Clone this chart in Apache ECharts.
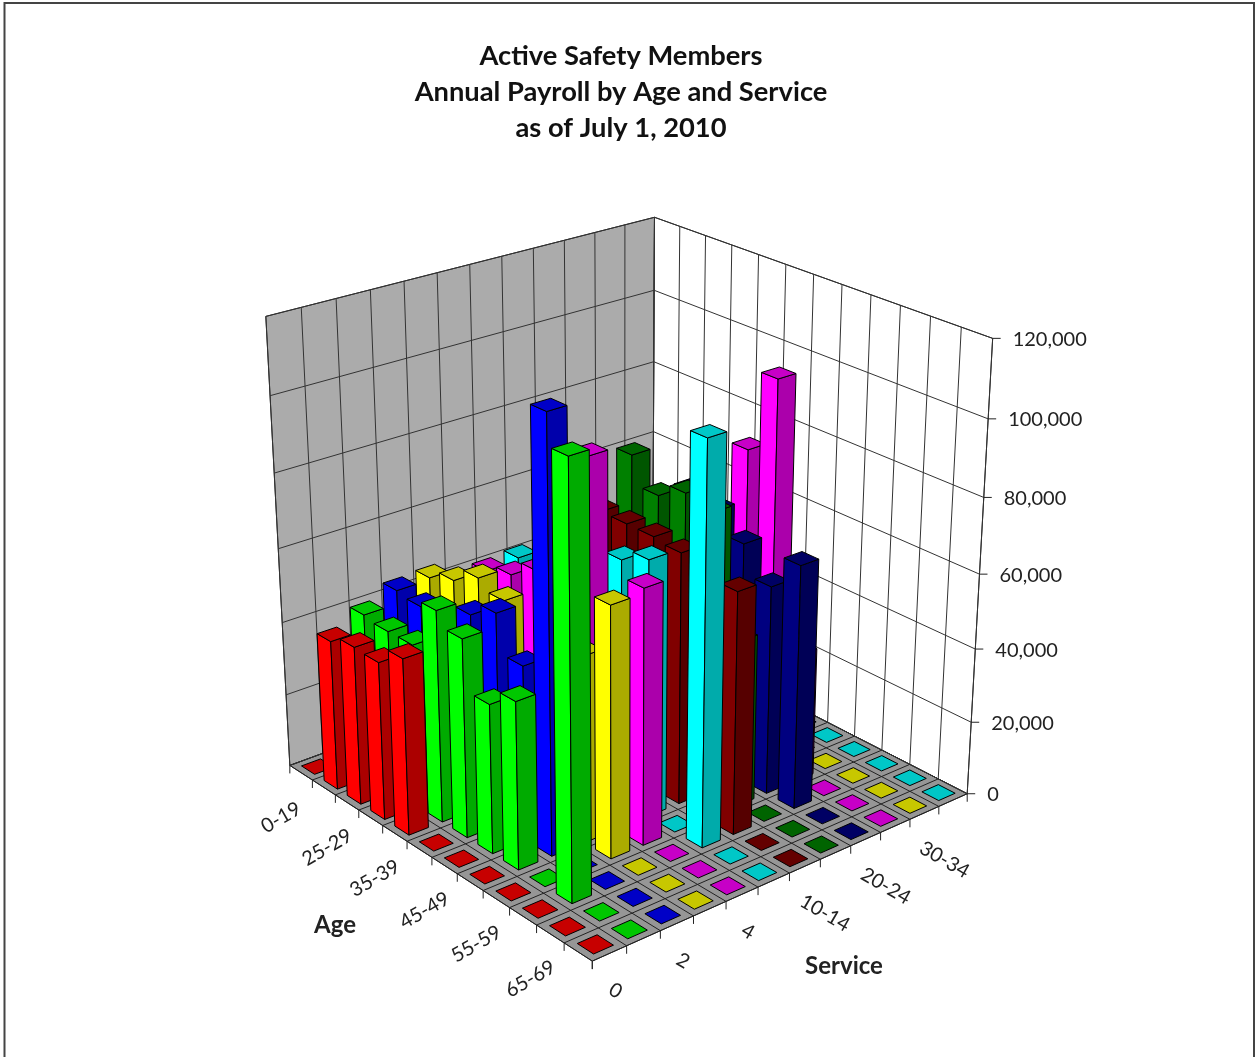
<!DOCTYPE html>
<html>
<head>
<meta charset="utf-8">
<style>html,body{margin:0;padding:0;background:#fff}#chart{width:1256px;height:1057px}</style>
<script src="https://cdn.jsdelivr.net/npm/echarts@6/dist/echarts.min.js"></script>
</head>
<body>
<div id="chart"></div>
<script>
const ages = ['0-19','20-24','25-29','30-34','35-39','40-44','45-49','50-54','55-59','60-64','65-69','70+'];
const services = ['0','1','2','3','4','5-9','10-14','15-19','20-24','25-29','30-34','35+'];
const valueTicks = [0,20000,40000,60000,80000,100000,120000];
const seriesColors = ['#ff0000','#00ff00','#0000ff','#ffff00','#ff00ff','#00ffff','#800000','#008000','#000080','#ff00ff','#ffff00','#00ffff'];

// Annual payroll in thousands: one array per service band, one entry per age band
const service0  = [0,40.8,43.0,42.7,47.5,0,0,0,0,0,0,0];
const service1  = [0,44.9,44.1,44.2,57.0,53.3,40.0,44.7,0,112.0,0,0];
const service2  = [0,48.5,47.7,40.0,52.8,56.9,46.8,113.8,0,0,0,0];
const service3  = [0,49.0,51.8,56.0,53.5,38.0,45.0,50.0,66.8,0,0,0];
const service4  = [0,30.0,51.4,53.9,58.5,50.0,94.7,40.0,68.1,0,0,0];
const service5  = [0,0,52.1,40.0,40.0,40.0,65.4,68.9,0,105.9,0,0];
const service6  = [0,0,0,20.0,68.5,68.6,68.6,67.8,55.0,64.8,0,0];
const service7  = [0,0,0,0,80.8,73.3,77.2,75.5,45.0,0,0,0];
const service8  = [0,0,0,0,0,71.8,70.0,64.4,56.5,65.6,0,0];
const service9  = [0,0,0,0,0,0,83.2,104.5,35.0,0,0,0];
const service10 = [0,0,0,0,0,0,0,0,0,0,0,0];
const service11 = [0,0,0,0,0,0,0,0,0,0,0,0];
const payroll = [service0,service1,service2,service3,service4,service5,service6,service7,service8,service9,service10,service11];

// Camera calibration: box position (age, service, height as fractions) against screen position
const anchors = [
[0,0,0,293,766],[1,0,0,593,962],[1,1,0,967,794],
[0,0,1,266,316],[0,1,1,654,217],[1,1,1,992,338],
[0,1,5/6,654,290],[0,1,4/6,654,362],[0,1,3/6,654,432],
[1,1,1/6,972,722],[1,1,2/6,976,648],[1,1,3/6,980,574],[1,1,4/6,984,498],[1,1,5/6,988,420],
[11.5/12,.5/12,0,595,944.3],[11.5/12,2.5/12,0,662.3,914.3],[11.5/12,11.5/12,0,938.3,792.7],
[7.5/12,11.5/12,0,826.7,735],[5.5/12,.5/12,0,436.7,841.7],[.5/12,.5/12,0,314,766.7],[10.5/12,8.5/12,0,821.7,815]
];
function solveCamera(pts){
  const A=[],b=[];
  pts.forEach(([u,v,w,X,Y])=>{
    A.push([u,v,w,1,0,0,0,0,-X*u,-X*v,-X*w]);b.push(X);
    A.push([0,0,0,0,u,v,w,1,-Y*u,-Y*v,-Y*w]);b.push(Y);
  });
  const n=11,M=[];
  for(let i=0;i<n;i++){M[i]=[];for(let j=0;j<=n;j++){let s=0;for(let r=0;r<A.length;r++){s+=A[r][i]*(j<n?A[r][j]:b[r]);}M[i][j]=s;}}
  for(let i=0;i<n;i++){
    let p=i;for(let r=i+1;r<n;r++)if(Math.abs(M[r][i])>Math.abs(M[p][i]))p=r;
    [M[i],M[p]]=[M[p],M[i]];
    for(let r=0;r<n;r++){if(r===i)continue;const f=M[r][i]/M[i][i];for(let j=i;j<=n;j++)M[r][j]-=f*M[i][j];}
  }
  return M.map((row,i)=>row[n]/row[i]);
}
const cam=solveCamera(anchors);
function project(u,v,w){
  const d=cam[8]*u+cam[9]*v+cam[10]*w+1;
  return [(cam[0]*u+cam[1]*v+cam[2]*w+cam[3])/d,(cam[4]*u+cam[5]*v+cam[6]*w+cam[7])/d];
}
const GRID=1000, BAR=0.58;
const heightOf=v=>echarts.number.linearMap(v,[0,120000],[0,1]);

// Far rows first so nearer bars paint over them
const items=[];
for(let a=0;a<ages.length;a++)for(let s=services.length-1;s>=0;s--)items.push([a,s,payroll[s][a]*1000]);
function shade(hex,f){
  const c=echarts.color.parse(hex);
  return 'rgb('+Math.round(c[0]*f)+','+Math.round(c[1]*f)+','+Math.round(c[2]*f)+')';
}
function renderBar(params,api){
  const a=api.value(0),s=api.value(1),val=api.value(2);
  const c=api.coord([a,s]),sz=api.size([1,1]);
  const uc=c[0]/GRID,vc=c[1]/GRID,hu=sz[0]*BAR/2/GRID,hv=sz[1]*BAR/2/GRID;
  const u0=uc-hu,u1=uc+hu,v0=vc-hv,v1=vc+hv,w=heightOf(val);
  const col=seriesColors[s];
  const line={stroke:'#000',lineWidth:1,lineJoin:'round'};
  const poly=(pts,fill)=>({type:'polygon',shape:{points:pts},style:Object.assign({fill},line)});
  const kids=[];
  if(w>0){
    kids.push(poly([project(u0,v0,0),project(u1,v0,0),project(u1,v0,w),project(u0,v0,w)],col));
    kids.push(poly([project(u1,v0,0),project(u1,v1,0),project(u1,v1,w),project(u1,v0,w)],shade(col,.67)));
  }
  kids.push(poly([project(u0,v0,w),project(u1,v0,w),project(u1,v1,w),project(u0,v1,w)],shade(col,.78)));
  return {type:'group',children:kids};
}
function renderFrame(params,api){
  const kids=[];
  const edge={stroke:'#222',lineWidth:1};
  const poly=(pts,fill)=>kids.push({type:'polygon',shape:{points:pts},style:{fill,stroke:'#222',lineWidth:1}});
  const seg=(p,q,st)=>kids.push({type:'line',shape:{x1:p[0],y1:p[1],x2:q[0],y2:q[1]},style:st||edge});
  const label=(t,p,rot,font,align)=>kids.push({type:'text',x:p[0],y:p[1],rotation:rot,style:{text:t,font,fill:'#222',align:align||'center',verticalAlign:'middle'}});
  poly([project(0,0,0),project(0,0,1),project(0,1,1),project(0,1,0)],'#ababab');
  poly([project(0,1,0),project(0,1,1),project(1,1,1),project(1,1,0)],'#ffffff');
  poly([project(0,0,0),project(1,0,0),project(1,1,0),project(0,1,0)],'#969696');
  const na=ages.length,ns=services.length,wallLine={stroke:'#333',lineWidth:1};
  for(let i=0;i<=na;i++){const u=i/na;seg(project(u,0,0),project(u,1,0));seg(project(u,1,0),project(u,1,1),wallLine);
    const p=project(u,0,0);seg(p,[p[0],p[1]+8]);}
  for(let i=0;i<=ns;i++){const v=i/ns;seg(project(0,v,0),project(1,v,0));seg(project(0,v,0),project(0,v,1),wallLine);
    const p=project(1,v,0);seg(p,[p[0],p[1]+8]);}
  valueTicks.forEach((t)=>{const w=heightOf(t);
    seg(project(0,0,w),project(0,1,w),wallLine);seg(project(0,1,w),project(1,1,w),wallLine);
    const p=project(1,1,w);seg(p,[p[0]+8,p[1]]);
    label(echarts.format.addCommas(t),[p[0]+20,p[1]+1],0,'20px Lato','left');});
  ages.forEach((t,i)=>{if(i%2)return;const p=project((i+.5)/na,0,0);label(t,[p[0]-20,p[1]+45],Math.PI/6,'20px Lato');});
  services.forEach((t,i)=>{if(i%2)return;const p=project(1,(i+.5)/ns,0);label(t,[p[0]+2.5+3.5*t.length,p[1]+35+2.4*t.length],-Math.PI/6,'20px Lato');});
  label('Age',[335,925],0,'bold 24px Lato');
  label('Service',[844,966],0,'bold 24px Lato');
  return {type:'group',children:kids};
}
const chart=echarts.init(document.getElementById('chart'),null,{renderer:'canvas'});
chart.setOption({
  animation:false,backgroundColor:'#fff',
  title:{text:'Active Safety Members\nAnnual Payroll by Age and Service\nas of July 1, 2010',left:616,top:33,textAlign:'center',
    textStyle:{fontFamily:'Lato',fontWeight:'bold',fontSize:27.3,lineHeight:36,color:'#111'}},
  grid:{left:0,top:0,width:GRID,height:GRID},
  xAxis:{type:'category',data:ages,show:false},
  yAxis:{type:'category',data:services,inverse:true,show:false},
  graphic:[
    {type:'polyline',shape:{points:[[4.5,1057],[4.5,3],[1254,3],[1254,1057]]},style:{fill:'none',stroke:'#444',lineWidth:2}}
  ],
  series:[
    {type:'custom',coordinateSystem:'cartesian2d',silent:true,z:1,data:[[0,0]],renderItem:renderFrame,clip:false},
    {type:'custom',coordinateSystem:'cartesian2d',silent:true,z:2,data:items,encode:{x:0,y:1},renderItem:renderBar,clip:false}
  ]
});
</script>
</body>
</html>
